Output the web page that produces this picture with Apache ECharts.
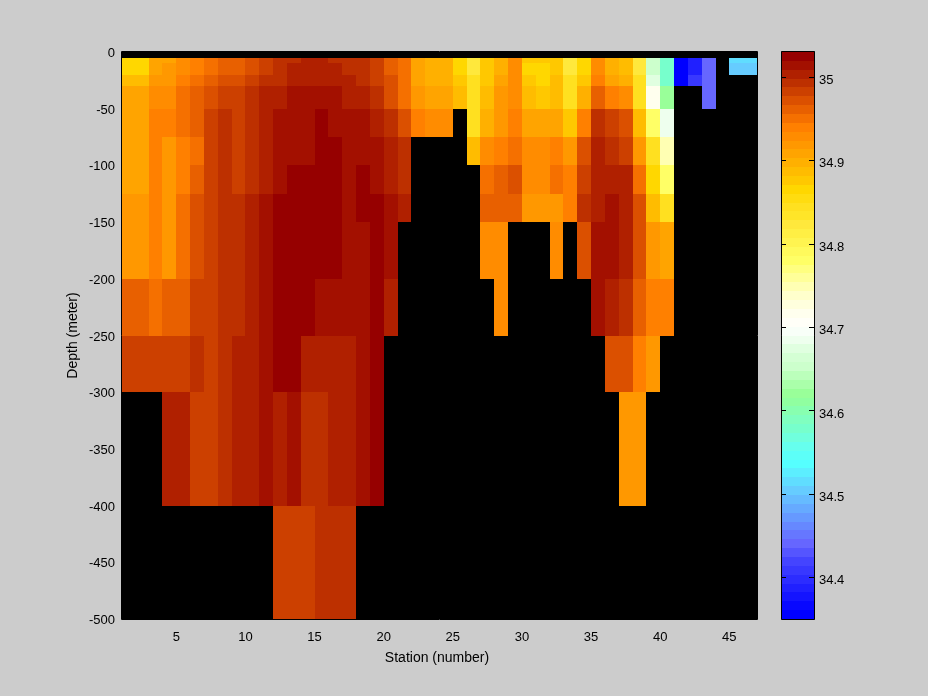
<!DOCTYPE html>
<html><head><meta charset="utf-8">
<style>html,body{margin:0;padding:0;background:#cccccc}#c{width:928px;height:696px}</style>
<script src="https://cdn.jsdelivr.net/npm/echarts@6/dist/echarts.min.js"></script>
</head><body><div id="c"></div>
<script>
const stationEdges=[1,2,3,4,5,6,7,8,9,10,11,12,13,14,15,16,17,18,19,20,21,22,23,24,25,26,27,28,29,30,31,32,33,34,35,36,37,38,39,40,41,42,43,44,45,46,47];
const depthEdges=[-5,-10,-20,-30,-50,-75,-100,-125,-150,-200,-250,-300,-400,-500];
const n=null;
const layer1=[34.866,34.866,34.908,34.908,34.929,34.94,34.951,34.961,34.961,34.972,34.983,34.993,34.993,35.004,35.004,34.993,34.993,34.993,34.983,34.961,34.951,34.908,34.898,34.898,34.866,34.823,34.876,34.898,34.929,34.876,34.876,34.876,34.823,34.866,34.929,34.898,34.887,34.823,34.65,34.58,34.355,34.387,34.44,n,34.515,34.515];
const layer2=[34.866,34.866,34.908,34.919,34.929,34.94,34.951,34.961,34.961,34.972,34.983,34.993,35.004,35.004,35.004,35.004,34.993,34.993,34.983,34.961,34.951,34.908,34.898,34.898,34.866,34.823,34.876,34.898,34.929,34.866,34.866,34.876,34.823,34.866,34.929,34.898,34.887,34.823,34.65,34.58,34.355,34.387,34.44,n,34.504,34.504];
const layer3=[34.887,34.887,34.919,34.919,34.94,34.951,34.961,34.972,34.972,34.983,34.993,34.993,35.004,35.004,35.004,35.004,35.004,34.993,34.983,34.972,34.951,34.908,34.898,34.898,34.876,34.844,34.876,34.908,34.929,34.876,34.866,34.887,34.844,34.876,34.94,34.908,34.898,34.844,34.674,34.58,34.355,34.408,34.44,n,n,n];
const layer4=[34.908,34.908,34.929,34.929,34.951,34.961,34.972,34.983,34.983,34.993,35.004,35.004,35.015,35.015,35.015,35.015,35.004,35.004,34.993,34.972,34.951,34.919,34.908,34.908,34.887,34.844,34.887,34.919,34.929,34.887,34.876,34.887,34.844,34.898,34.961,34.94,34.929,34.844,34.716,34.62,n,n,34.44,n,n,n];
const layer5=[34.908,34.908,34.94,34.94,34.951,34.961,34.983,34.993,34.983,34.993,35.004,35.015,35.015,35.015,35.025,35.015,35.015,35.015,35.004,34.993,34.972,34.94,34.929,34.929,n,34.844,34.898,34.919,34.94,34.908,34.908,34.908,34.876,34.94,34.993,34.983,34.972,34.887,34.78,34.685,n,n,n,n,n,n];
const layer6=[34.908,34.908,34.94,34.919,34.94,34.951,34.983,34.993,34.983,34.993,35.004,35.015,35.015,35.015,35.025,35.025,35.015,35.015,35.015,35.004,34.993,n,n,n,n,34.887,34.929,34.94,34.951,34.929,34.929,34.94,34.919,34.972,35.004,34.993,34.983,34.919,34.844,34.748,n,n,n,n,n,n];
const layer7=[34.908,34.908,34.94,34.919,34.94,34.961,34.983,34.993,34.983,34.993,35.004,35.015,35.025,35.025,35.025,35.025,35.015,35.025,35.015,35.004,34.993,n,n,n,n,n,34.951,34.961,34.972,34.929,34.929,34.951,34.94,34.983,35.004,35.004,35.004,34.951,34.866,34.78,n,n,n,n,n,n];
const layer8=[34.919,34.919,34.94,34.919,34.951,34.972,34.983,34.993,34.993,35.004,35.015,35.025,35.025,35.025,35.025,35.025,35.015,35.025,35.025,35.015,35.004,n,n,n,n,n,34.961,34.961,34.961,34.919,34.919,34.919,34.94,34.993,35.004,35.015,35.004,34.972,34.887,34.844,n,n,n,n,n,n];
const layer9=[34.919,34.919,34.94,34.919,34.951,34.972,34.983,34.993,34.993,35.004,35.015,35.025,35.025,35.025,35.025,35.025,35.015,35.015,35.025,35.015,n,n,n,n,n,n,34.929,34.929,n,n,n,34.929,n,34.972,35.015,35.015,35.004,34.972,34.919,34.908,n,n,n,n,n,n];
const layer10=[34.961,34.961,34.951,34.961,34.961,34.983,34.983,34.993,34.993,35.004,35.015,35.025,35.025,35.025,35.015,35.015,35.015,35.015,35.025,35.004,n,n,n,n,n,n,n,34.929,n,n,n,n,n,n,35.015,35.004,34.993,34.961,34.94,34.94,n,n,n,n,n,n];
const layer11=[34.983,34.983,34.983,34.983,34.983,34.993,34.983,34.993,35.004,35.004,35.015,35.025,35.025,35.004,35.004,35.004,35.004,35.015,35.025,n,n,n,n,n,n,n,n,n,n,n,n,n,n,n,n,34.972,34.972,34.94,34.919,n,n,n,n,n,n,n];
const layer12=[n,n,n,35.004,35.004,34.983,34.983,34.993,35.004,35.004,35.015,35.004,35.015,34.993,34.993,35.004,35.004,35.015,35.025,n,n,n,n,n,n,n,n,n,n,n,n,n,n,n,n,n,34.919,34.919,n,n,n,n,n,n,n,n];
const layer13=[n,n,n,n,n,n,n,n,n,n,n,34.983,34.983,34.983,34.993,34.993,34.993,n,n,n,n,n,n,n,n,n,n,n,n,n,n,n,n,n,n,n,n,n,n,n,n,n,n,n,n,n];
const layers=[layer1,layer2,layer3,layer4,layer5,layer6,layer7,layer8,layer9,layer10,layer11,layer12,layer13];
const xTicks=[5,10,15,20,25,30,35,40,45];
const cbarTicks=[34.4,34.5,34.6,34.7,34.8,34.9,35];
const cMin=34.35,cMax=35.03;
const colormap=['#0000ff','#0808ff','#1414ff','#2020ff','#2c2cff','#3838ff','#4444ff','#5555ff','#6666ff','#6677ff','#6688ff','#6699ff','#66aaff','#66bbff','#66ccff','#60ddff','#5ceeff','#55ffff','#5cfff8','#66ffee','#70ffdd','#77ffcc','#80ffc0','#88ffb0','#90ffa0','#99ff99','#aaffaa','#bbffbb','#ccffcc','#d4ffd4','#e0ffe0','#eeffee','#f8fff8','#fffff8','#ffffee','#ffffdd','#ffffcc','#ffffb3','#ffff99','#ffff80','#ffff66','#fffa5c','#fff450','#ffef44','#ffe83c','#ffe528','#ffe020','#ffdc10','#ffd700','#ffc800','#ffbc00','#ffb000','#ffa400','#ff9800','#ff8c00','#ff8000','#f57000','#e86000','#db5000','#cc4000','#bd3000','#b02000','#a31000','#960000'];
const colorOf=v=>colormap[Math.min(63,Math.max(0,Math.floor((v-cMin)/(cMax-cMin)*64)))];
const cells=[];
layers.forEach((row,r)=>row.forEach((v,i)=>{if(v!==null)cells.push([stationEdges[i],stationEdges[i+1],depthEdges[r],depthEdges[r+1],v]);}));
const bands=colormap.map((c,i)=>[0,1,cMin+(cMax-cMin)*i/64,cMin+(cMax-cMin)*(i+1)/64,cMin+(cMax-cMin)*(i+.5)/64]);
const rectItem=(p,api)=>{
  const a=api.coord([api.value(0),api.value(2)]),b=api.coord([api.value(1),api.value(3)]);
  const x=Math.round(a[0]),y=Math.round(Math.min(a[1],b[1])),w=Math.round(b[0])-x,h=Math.round(Math.max(a[1],b[1]))-y;
  return{type:'rect',shape:{x,y,width:w,height:h},style:{fill:colorOf(api.value(4))}};
};
const tickFont={fontFamily:'"Liberation Sans",Arial,sans-serif',fontSize:13,color:'#000'};
const nameFont={fontFamily:'"Liberation Sans",Arial,sans-serif',fontSize:14,color:'#000'};
const line={lineStyle:{color:'#000',width:1}};
const chart=echarts.init(document.getElementById('c'),null,{renderer:'canvas'});
chart.setOption({
  animation:false,backgroundColor:'#cccccc',
  grid:[{left:121,top:52,width:636,height:567,show:true,backgroundColor:'#000',borderWidth:0},
        {left:781,top:52,width:33,height:567,show:false}],
  xAxis:[{type:'value',gridIndex:0,min:1,max:47,position:'bottom',splitLine:{show:false},
          axisLine:{show:false},
          axisTick:{show:false,customValues:xTicks},
          axisLabel:{...tickFont,margin:12,customValues:xTicks,hideOverlap:false},
          name:'Station (number)',nameLocation:'middle',nameGap:32,nameTextStyle:{...nameFont,padding:[0,4,0,0]}},
         {type:'value',gridIndex:1,min:0,max:1,show:false}],
  yAxis:[{type:'value',gridIndex:0,min:-500,max:0,interval:50,splitLine:{show:false},
          axisLine:{show:false},axisTick:{show:false},
          axisLabel:{...tickFont,margin:6,verticalAlign:'top',lineHeight:3},
          name:'Depth (meter)',nameLocation:'middle',nameMoveOverlap:false,nameGap:41,nameRotate:90,nameTextStyle:nameFont},
         {type:'value',gridIndex:1,min:cMin,max:cMax,position:'right',z:10,splitLine:{show:false},
          axisLine:{show:true,onZero:false,...line},
          axisTick:{show:true,inside:true,length:5,customValues:cbarTicks,...line},
          axisLabel:{...tickFont,margin:5,verticalAlign:'top',lineHeight:7,customValues:cbarTicks,hideOverlap:false,formatter:v=>String(+v.toFixed(1))}},
         {type:'value',gridIndex:1,min:cMin,max:cMax,position:'left',z:10,splitLine:{show:false},
          axisLine:{show:true,onZero:false,...line},
          axisTick:{show:true,inside:true,length:5,customValues:cbarTicks,...line},
          axisLabel:{show:false}}],
  series:[
    {type:'custom',xAxisIndex:0,yAxisIndex:0,coordinateSystem:'cartesian2d',data:cells,renderItem:rectItem,silent:true,
     encode:{x:[0,1],y:[2,3]},clip:true},
    {type:'custom',xAxisIndex:1,yAxisIndex:1,coordinateSystem:'cartesian2d',data:bands,renderItem:rectItem,silent:true,
     encode:{x:[0,1],y:[2,3]}}
  ],
  graphic:[{type:'rect',z:20,silent:true,shape:{x:781.5,y:51.5,width:33,height:568},style:{fill:'none',stroke:'#000',lineWidth:1}},
           {type:'rect',z:20,silent:true,shape:{x:121.5,y:51.5,width:636,height:568},style:{fill:'none',stroke:'#000',lineWidth:1}}]
});
</script></body></html>
